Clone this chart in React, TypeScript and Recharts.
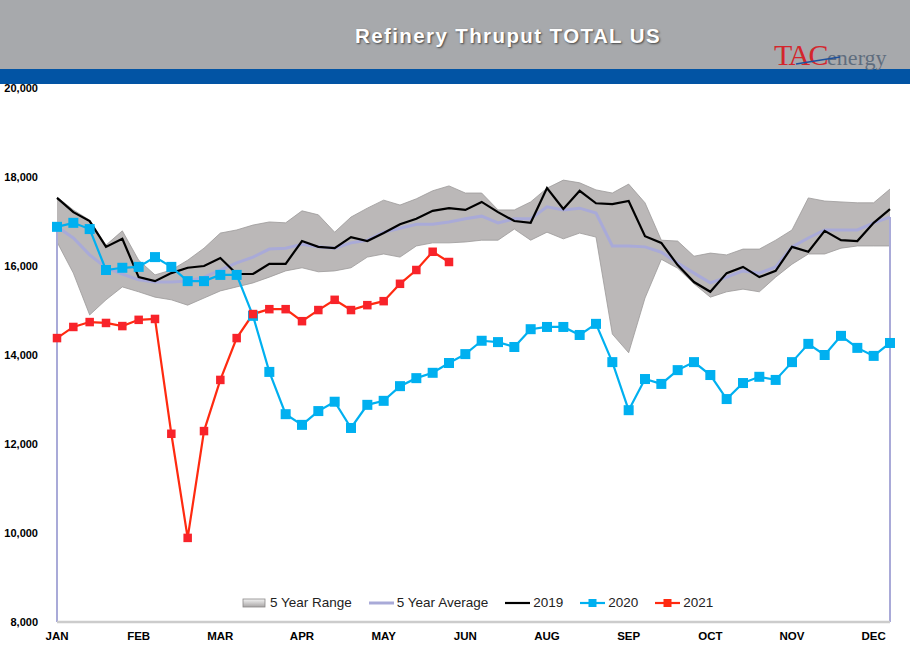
import React from 'react';
import {
  ComposedChart,
  Area,
  Line,
  XAxis,
  YAxis,
  Legend,
  ReferenceLine,
} from 'recharts';

// weekly thruput, kb/d
const weeks = [
  1, 2, 3, 4, 5, 6, 7, 8, 9, 10, 11, 12, 13, 14, 15, 16, 17, 18, 19, 20, 21, 22, 23, 24, 25, 26,
  27, 28, 29, 30, 31, 32, 33, 34, 35, 36, 37, 38, 39, 40, 41, 42, 43, 44, 45, 46, 47, 48, 49, 50, 51, 52,
];

const monthLabels: Record<number, string> = {
  1: 'JAN', 6: 'FEB', 11: 'MAR', 16: 'APR', 21: 'MAY', 26: 'JUN',
  31: 'AUG', 36: 'SEP', 41: 'OCT', 46: 'NOV', 51: 'DEC',
};
const monthTicks = [1, 6, 11, 16, 21, 26, 31, 36, 41, 46, 51];
const yTicks = [8000, 10000, 12000, 14000, 16000, 18000, 20000];

const rangeLow = [
  16540, 15840, 14900, 15240, 15530, 15420, 15300, 15240, 15120, 15280, 15440, 15530, 15620,
  15750, 15890, 15960, 15870, 15890, 15960, 16200, 16270, 16200, 16450, 16520, 16520, 16540,
  16580, 16580, 16830, 16580, 16760, 16610, 16740, 16650, 14470, 14050, 15280, 16150, 15950,
  15600, 15300, 15420, 15480, 15420, 15750, 16040, 16270, 16270, 16400, 16450, 16450, 16450,
];
const rangeHigh = [
  17550, 17260, 17030, 16470, 16790, 16130, 15800, 15910, 16130, 16400, 16740, 16810, 16920,
  16990, 16970, 17240, 17150, 16760, 17100, 17300, 17480, 17370, 17510, 17690, 17800, 17640,
  17640, 17260, 17260, 17440, 17750, 17930, 17870, 17710, 17640, 17840, 17420, 16580, 16560,
  16220, 16290, 16250, 16380, 16380, 16580, 16810, 17530, 17460, 17440, 17420, 17420, 17730,
];
const avg5 = [
  16880, 16630, 16250, 15960, 15820, 15690, 15640, 15640, 15660, 15750, 15910, 16070, 16200,
  16380, 16400, 16490, 16430, 16400, 16520, 16580, 16760, 16850, 16940, 16940, 16990, 17060,
  17120, 16970, 17060, 17060, 17330, 17260, 17300, 17190, 16450, 16450, 16430, 16310, 16070,
  15840, 15620, 15750, 15890, 15840, 15980, 16430, 16630, 16810, 16810, 16810, 16970, 17100,
];
const s2019 = [
  17530, 17210, 17010, 16430, 16610, 15750, 15660, 15840, 15960, 16000, 16180, 15820, 15820,
  16050, 16050, 16560, 16430, 16400, 16650, 16560, 16740, 16940, 17060, 17240, 17300, 17260,
  17440, 17210, 17010, 16970, 17750, 17280, 17690, 17410, 17390, 17460, 16670, 16520, 16020,
  15640, 15420, 15840, 15980, 15750, 15890, 16430, 16320, 16790, 16580, 16560, 16970, 17280,
];
const s2020 = [
  16880, 16970, 16830, 15910, 15960, 15980, 16200, 15980, 15660, 15660, 15800, 15800, 14880,
  13620, 12670, 12430, 12740, 12950, 12360, 12880, 12970, 13300, 13480, 13600, 13820, 14020,
  14320, 14290, 14180, 14580, 14630, 14630, 14450, 14700, 13840, 12760, 13460, 13350, 13660,
  13840, 13550, 13010, 13370, 13510, 13440, 13840, 14250, 14000, 14430, 14160, 13980, 14270,
];
const s2021 = [
  14380, 14630, 14740, 14720, 14650, 14790, 14810, 12230, 9890, 12290, 13440, 14380, 14920,
  15030, 15030, 14760, 15010, 15240, 15010, 15120, 15210, 15600, 15910, 16320, 16090,
];

const data = weeks.map((w, i) => ({
  week: w,
  range: [rangeLow[i], rangeHigh[i]],
  avg: avg5[i],
  y2019: s2019[i],
  y2020: s2020[i],
  y2021: i < s2021.length ? s2021[i] : null,
}));

const squareDot = (size: number, color: string) => (props: any) => {
  const { cx, cy, index } = props;
  if (cx == null || cy == null || isNaN(cy)) return <g key={index} />;
  return (
    <rect key={index} x={cx - size / 2} y={cy - size / 2} width={size} height={size} fill={color} />
  );
};

const legendItems = [
  { name: '5 Year Range', kind: 'box', color: '#b9b6b6' },
  { name: '5 Year Average', kind: 'line', color: '#a9aad8' },
  { name: '2019', kind: 'line', color: '#000000' },
  { name: '2020', kind: 'marker', color: '#00b0f0' },
  { name: '2021', kind: 'marker', color: '#ff2a10' },
];

function LegendBox() {
  return (
    <div
      style={{
        display: 'flex',
        alignItems: 'center',
        paddingLeft: 242,
        fontFamily: '"Liberation Sans", Arial, sans-serif',
        fontSize: 13.5,
        color: '#222',
      }}
    >
      {legendItems.map((it) => (
        <div key={it.name} style={{ display: 'flex', alignItems: 'center', marginRight: 17 }}>
          <svg width={26} height={12} style={{ marginRight: 2 }}>
            {it.kind === 'box' ? (
              <>
                <defs>
                  <linearGradient id="lg-box" x1="0" y1="0" x2="0" y2="1">
                    <stop offset="0" stopColor="#f4f4f4" />
                    <stop offset="1" stopColor="#a8a5a5" />
                  </linearGradient>
                </defs>
                <rect x={1} y={2} width={22} height={8} fill="url(#lg-box)" stroke="#8a8888" strokeWidth={0.8} />
              </>
            ) : (
              <>
                <line x1={0} y1={6} x2={25} y2={6} stroke={it.color} strokeWidth={it.kind === 'line' && it.name !== '2019' ? 3 : 2.2} />
                {it.kind === 'marker' && <rect x={8.5} y={2} width={8} height={8} fill={it.color} />}
              </>
            )}
          </svg>
          <span>{it.name}</span>
        </div>
      ))}
    </div>
  );
}

export default function App() {
  const last = weeks[weeks.length - 1];
  return (
    <div
      style={{
        position: 'absolute',
        left: 0,
        top: 0,
        width: 910,
        height: 659,
        background: '#fff',
        fontFamily: '"Liberation Sans", Arial, sans-serif',
        overflow: 'hidden',
      }}
    >
      <div style={{ position: 'absolute', left: 0, top: 0, width: 910, height: 69, background: '#a7a9ac' }} />
      <div style={{ position: 'absolute', left: 0, top: 69, width: 910, height: 15, background: '#0254a4' }} />
      <div
        style={{
          position: 'absolute',
          left: 200,
          width: 616,
          top: 24,
          textAlign: 'center',
          color: '#fff',
          fontWeight: 'bold',
          fontSize: 20.5,
          letterSpacing: 1.4,
          textShadow: '1px 1px 2px #444',
        }}
      >
        Refinery Thruput TOTAL US
      </div>
      <div
        style={{
          position: 'absolute',
          left: 774,
          top: 38,
          fontFamily: '"Liberation Serif", "Times New Roman", serif',
          whiteSpace: 'nowrap',
        }}
      >
        <span style={{ color: '#d4262c', fontSize: 30, letterSpacing: -1.5 }}>TAC</span>
        <span style={{ color: '#5f6d7e', fontSize: 22 }}>energy</span>
      </div>
      <svg style={{ position: 'absolute', left: 0, top: 0 }} width={910} height={84}>
        <path d="M796 64 L840 57" stroke="#1d4f9c" strokeWidth={1.5} />
      </svg>

      <div style={{ position: 'absolute', left: 0, top: 0 }}>
        <ComposedChart width={910} height={659} data={data} margin={{ top: 88, right: 20, bottom: 7, left: 0 }}>
          <XAxis
            dataKey="week"
            ticks={monthTicks}
            interval={0}
            tickFormatter={(v) => monthLabels[v] ?? ''}
            tickSize={0}
            tickMargin={10}
            height={30}
            axisLine={{ stroke: '#cccccc', strokeWidth: 2.5 }}
            tick={{ fill: '#000', fontSize: 11.5, fontWeight: 'bold' }}
          />
          <YAxis
            domain={[8000, 20000]}
            ticks={yTicks}
            width={57}
            axisLine={false}
            tickLine={false}
            tickSize={0}
            tickMargin={19}
            tickFormatter={(v) => v.toLocaleString('en-US')}
            tick={{ fill: '#000', fontSize: 11, fontWeight: 'bold' }}
          />
          <Area
            dataKey="range"
            name="5 Year Range"
            fill="#bbb8b8"
            fillOpacity={1}
            stroke="#9c9999"
            strokeWidth={0.8}
            isAnimationActive={false}
            legendType="rect"
          />
          <ReferenceLine
            segment={[{ x: weeks[0], y: 8000 }, { x: weeks[0], y: avg5[0] }]}
            stroke="#a9aad8"
            strokeWidth={2}
          />
          <ReferenceLine
            segment={[{ x: last, y: 8000 }, { x: last, y: avg5[avg5.length - 1] }]}
            stroke="#a9aad8"
            strokeWidth={2}
          />
          <Line dataKey="avg" name="5 Year Average" stroke="#a9aad8" strokeWidth={3} dot={false} isAnimationActive={false} />
          <Line dataKey="y2019" name="2019" stroke="#000" strokeWidth={2.2} dot={false} isAnimationActive={false} />
          <Line
            dataKey="y2020"
            name="2020"
            stroke="#00b0f0"
            strokeWidth={2.2}
            dot={squareDot(10, '#00b0f0')}
            activeDot={false}
            isAnimationActive={false}
          />
          <Line
            dataKey="y2021"
            name="2021"
            stroke="#ff2a10"
            strokeWidth={2.2}
            dot={squareDot(8.5, '#f8232a')}
            activeDot={false}
            isAnimationActive={false}
          />
          <Legend
            verticalAlign="middle"
            layout="horizontal"
            wrapperStyle={{ top: 595, left: 0, width: 910 }}
            content={() => <LegendBox />}
          />
        </ComposedChart>
      </div>
    </div>
  );
}
